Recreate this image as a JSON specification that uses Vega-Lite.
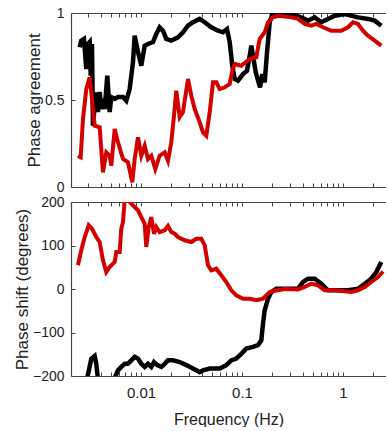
{
  "$schema": "https://vega.github.io/schema/vega-lite/v6.json",
  "padding": {"left": 13, "top": 6, "right": 0, "bottom": 0},
  "bounds": "flush",
  "spacing": 15,
  "config": {
    "view": {"stroke": null},
    "font": "Liberation Sans",
    "axis": {
      "grid": false,
      "domainColor": "#444",
      "domainWidth": 1.2,
      "tickColor": "#444",
      "tickSize": -4,
      "labelPadding": 11,
      "labelFont": "Liberation Sans",
      "labelFontSize": 15,
      "labelColor": "#222",
      "titleFont": "Liberation Sans",
      "titleFontSize": 17,
      "titleFontWeight": "normal",
      "titleColor": "#222"
    },
    "axisY": {"labelFontSize": 14}
  },
  "datasets": {
    "aK": [
      {"f":0.002472,"v":0.803},{"f":0.002564,"v":0.841},{"f":0.002727,"v":0.851},{"f":0.002873,"v":0.678},
      {"f":0.002987,"v":0.822},{"f":0.003105,"v":0.833},{"f":0.003177,"v":0.640},{"f":0.003272,"v":0.822},
      {"f":0.003347,"v":0.352},{"f":0.003479,"v":0.467},{"f":0.003608,"v":0.544},{"f":0.003751,"v":0.431},
      {"f":0.003899,"v":0.546},{"f":0.004044,"v":0.448},{"f":0.004204,"v":0.506},{"f":0.004370,"v":0.448},
      {"f":0.004637,"v":0.640},{"f":0.004898,"v":0.431},{"f":0.005080,"v":0.517},{"f":0.005490,"v":0.506},
      {"f":0.005920,"v":0.517},{"f":0.006636,"v":0.517},{"f":0.007152,"v":0.496},{"f":0.007728,"v":0.563},
      {"f":0.008333,"v":0.718},{"f":0.008661,"v":0.870},{"f":0.009339,"v":0.776},{"f":0.01007,"v":0.697},
      {"f":0.01088,"v":0.812},{"f":0.01173,"v":0.822},{"f":0.01315,"v":0.833},{"f":0.01417,"v":0.879},
      {"f":0.01531,"v":0.918},{"f":0.01651,"v":0.898},{"f":0.01780,"v":0.851},{"f":0.01995,"v":0.841},
      {"f":0.02324,"v":0.860},{"f":0.02605,"v":0.889},{"f":0.02920,"v":0.927},{"f":0.03273,"v":0.947},
      {"f":0.03813,"v":0.966},{"f":0.04272,"v":0.947},{"f":0.04966,"v":0.918},{"f":0.05786,"v":0.898},
      {"f":0.06484,"v":0.889},{"f":0.07103,"v":0.908},{"f":0.07553,"v":0.833},{"f":0.08017,"v":0.697},
      {"f":0.08468,"v":0.621},{"f":0.09130,"v":0.611},{"f":0.1023,"v":0.649},{"f":0.1121,"v":0.668},
      {"f":0.1200,"v":0.764},{"f":0.1237,"v":0.812},{"f":0.1285,"v":0.755},{"f":0.1367,"v":0.659},
      {"f":0.1508,"v":0.573},{"f":0.1589,"v":0.649},{"f":0.1678,"v":0.602},{"f":0.1769,"v":0.774},
      {"f":0.1881,"v":0.947},{"f":0.1995,"v":0.994},{"f":0.2362,"v":0.994},{"f":0.3077,"v":0.994},
      {"f":0.3865,"v":0.975},{"f":0.4503,"v":0.956},{"f":0.5246,"v":0.975},{"f":0.6097,"v":0.947},
      {"f":0.7103,"v":0.966},{"f":0.8277,"v":0.984},{"f":1.039,"v":0.994},{"f":1.408,"v":0.975},
      {"f":1.768,"v":0.966},{"f":2.060,"v":0.956},{"f":2.394,"v":0.927}
    ],
    "aR": [
      {"f":0.002377,"v":0.180},{"f":0.002529,"v":0.171},{"f":0.002665,"v":0.391},{"f":0.002873,"v":0.563},
      {"f":0.003105,"v":0.630},{"f":0.003272,"v":0.506},{"f":0.003479,"v":0.352},{"f":0.003899,"v":0.343},
      {"f":0.004204,"v":0.084},{"f":0.004533,"v":0.199},{"f":0.004898,"v":0.180},{"f":0.005080,"v":0.122},
      {"f":0.005490,"v":0.333},{"f":0.005920,"v":0.257},{"f":0.006636,"v":0.161},{"f":0.007434,"v":0.142},
      {"f":0.008201,"v":0.027},{"f":0.008661,"v":0.161},{"f":0.009339,"v":0.286},{"f":0.01007,"v":0.180},
      {"f":0.01088,"v":0.237},{"f":0.01173,"v":0.161},{"f":0.01265,"v":0.180},{"f":0.01385,"v":0.103},
      {"f":0.01531,"v":0.180},{"f":0.01717,"v":0.199},{"f":0.01850,"v":0.151},{"f":0.01995,"v":0.257},
      {"f":0.02122,"v":0.410},{"f":0.02236,"v":0.553},{"f":0.02416,"v":0.402},{"f":0.02605,"v":0.431},
      {"f":0.02920,"v":0.621},{"f":0.03148,"v":0.525},{"f":0.03402,"v":0.448},{"f":0.03813,"v":0.372},
      {"f":0.04110,"v":0.314},{"f":0.04431,"v":0.295},{"f":0.04788,"v":0.429},{"f":0.05163,"v":0.602},
      {"f":0.05567,"v":0.602},{"f":0.06016,"v":0.563},{"f":0.06741,"v":0.573},{"f":0.07553,"v":0.592},
      {"f":0.08017,"v":0.668},{"f":0.08468,"v":0.707},{"f":0.09842,"v":0.697},{"f":0.1192,"v":0.736},
      {"f":0.1386,"v":0.745},{"f":0.1497,"v":0.851},{"f":0.1678,"v":0.889},{"f":0.1809,"v":0.947},
      {"f":0.2027,"v":0.975},{"f":0.2272,"v":0.984},{"f":0.3077,"v":0.975},{"f":0.3585,"v":0.966},
      {"f":0.4176,"v":0.937},{"f":0.4855,"v":0.927},{"f":0.5440,"v":0.937},{"f":0.6339,"v":0.918},
      {"f":0.7661,"v":0.898},{"f":0.9621,"v":0.898},{"f":1.121,"v":0.918},{"f":1.256,"v":0.947},
      {"f":1.408,"v":0.937},{"f":1.578,"v":0.898},{"f":1.768,"v":0.870},{"f":2.060,"v":0.841},
      {"f":2.394,"v":0.812}
    ],
    "sK": [
      {"f":0.002873,"d":-215},{"f":0.003220,"d":-161},{"f":0.003479,"d":-154},{"f":0.003608,"d":-172},
      {"f":0.003751,"d":-207},{"f":0.004370,"d":-225},{"f":0.005080,"d":-215},{"f":0.005490,"d":-204.6},
      {"f":0.005920,"d":-187},{"f":0.006383,"d":-179},{"f":0.006896,"d":-172},{"f":0.007434,"d":-172},
      {"f":0.008014,"d":-164},{"f":0.008661,"d":-156},{"f":0.009339,"d":-160},{"f":0.01007,"d":-172},
      {"f":0.01088,"d":-179},{"f":0.01173,"d":-172},{"f":0.01265,"d":-179},{"f":0.01345,"d":-168},
      {"f":0.01450,"d":-175},{"f":0.01589,"d":-179},{"f":0.01717,"d":-172},{"f":0.01850,"d":-164},
      {"f":0.02074,"d":-164},{"f":0.02416,"d":-168},{"f":0.02809,"d":-175},{"f":0.03273,"d":-183},
      {"f":0.03813,"d":-191},{"f":0.04110,"d":-187},{"f":0.04788,"d":-183},{"f":0.06016,"d":-183},
      {"f":0.06990,"d":-175},{"f":0.07834,"d":-164},{"f":0.08781,"d":-160},{"f":0.09842,"d":-149},
      {"f":0.1103,"d":-137},{"f":0.1285,"d":-133},{"f":0.1440,"d":-129},{"f":0.1553,"d":-118},
      {"f":0.1614,"d":-80},{"f":0.1678,"d":-49},{"f":0.1809,"d":-22.3},{"f":0.1950,"d":-6.9},
      {"f":0.2186,"d":0.7},{"f":0.3585,"d":0.7},{"f":0.4018,"d":16.1},{"f":0.4503,"d":23.7},
      {"f":0.5246,"d":23.7},{"f":0.6097,"d":12.2},{"f":0.7103,"d":-3},{"f":1.121,"d":-3},
      {"f":1.408,"d":0.7},{"f":1.640,"d":12.2},{"f":1.906,"d":23.7},{"f":2.136,"d":39},
      {"f":2.394,"d":62}
    ],
    "sR": [
      {"f":0.002377,"d":54.5},{"f":0.002564,"d":89},{"f":0.002771,"d":119.5},{"f":0.003035,"d":146.4},
      {"f":0.003272,"d":138.6},{"f":0.003608,"d":119.5},{"f":0.003899,"d":108},{"f":0.004204,"d":66},
      {"f":0.004533,"d":39},{"f":0.004898,"d":50.6},{"f":0.005282,"d":58.2},{"f":0.005490,"d":62},
      {"f":0.005694,"d":85},{"f":0.006154,"d":85},{"f":0.006383,"d":138.6},{"f":0.006636,"d":154},
      {"f":0.006896,"d":205},{"f":0.007434,"d":205},{"f":0.008014,"d":196},{"f":0.008661,"d":188.5},
      {"f":0.009339,"d":181},{"f":0.01007,"d":165.5},{"f":0.01088,"d":150},{"f":0.01128,"d":96.6},
      {"f":0.01192,"d":142.5},{"f":0.01265,"d":165.5},{"f":0.01345,"d":127},{"f":0.01417,"d":142.5},
      {"f":0.01531,"d":131},{"f":0.01717,"d":135},{"f":0.01850,"d":145},{"f":0.01995,"d":131},
      {"f":0.02157,"d":127},{"f":0.02324,"d":119.5},{"f":0.02708,"d":112},{"f":0.03148,"d":108},
      {"f":0.03528,"d":115.6},{"f":0.03954,"d":115.6},{"f":0.04272,"d":101},{"f":0.04606,"d":54.5},
      {"f":0.04966,"d":43},{"f":0.05567,"d":46.7},{"f":0.06237,"d":31.5},{"f":0.06990,"d":16.1},
      {"f":0.07834,"d":-3},{"f":0.08781,"d":-14.5},{"f":0.1023,"d":-22.3},{"f":0.1192,"d":-22.3},
      {"f":0.1386,"d":-26},{"f":0.1614,"d":-22.3},{"f":0.1740,"d":-14.5},{"f":0.1881,"d":-6.9},
      {"f":0.2108,"d":-3.9},{"f":0.2648,"d":0},{"f":0.3585,"d":-1},{"f":0.4176,"d":4.6},
      {"f":0.4855,"d":12.2},{"f":0.5655,"d":8.5},{"f":0.6589,"d":-3},{"f":0.8277,"d":-3},
      {"f":1.208,"d":-6.9},{"f":1.408,"d":-3},{"f":1.640,"d":4.6},{"f":1.906,"d":16.1},
      {"f":2.221,"d":27.6},{"f":2.489,"d":40.2}
    ]
  },
  "vconcat": [
    {
      "width": 315,
      "height": 174,
      "layer": [
        {
          "data": {"name": "aK"},
          "mark": {"type": "line", "color": "#000000", "strokeWidth": 4.5, "clip": true},
          "encoding": {
            "x": {"field": "f", "type": "quantitative",
              "scale": {"type": "log", "domain": [0.002028, 2.665], "nice": false},
              "axis": {"orient": "bottom", "labels": false, "title": null,
                "values": [0.003,0.004,0.005,0.006,0.007,0.008,0.009,0.01,0.02,0.03,0.04,0.05,0.06,0.07,0.08,0.09,0.1,0.2,0.3,0.4,0.5,0.6,0.7,0.8,0.9,1,2]}},
            "y": {"field": "v", "type": "quantitative",
              "scale": {"domain": [0, 1], "nice": false},
              "axis": {"values": [0, 0.5, 1], "format": "~g", "title": "Phase agreement", "titlePadding": 1}}
          }
        },
        {
          "data": {"name": "aR"},
          "mark": {"type": "line", "color": "#d40000", "strokeWidth": 4, "clip": true},
          "encoding": {
            "x": {"field": "f", "type": "quantitative",
              "scale": {"type": "log", "domain": [0.002028, 2.665], "nice": false},
              "axis": {"orient": "top", "labels": false, "title": null,
                "values": [0.003,0.004,0.005,0.006,0.007,0.008,0.009,0.01,0.02,0.03,0.04,0.05,0.06,0.07,0.08,0.09,0.1,0.2,0.3,0.4,0.5,0.6,0.7,0.8,0.9,1,2]}},
            "y": {"field": "v", "type": "quantitative"}
          }
        }
      ],
      "resolve": {"axis": {"x": "independent"}}
    },
    {
      "width": 315,
      "height": 174,
      "layer": [
        {
          "data": {"name": "sK"},
          "mark": {"type": "line", "color": "#000000", "strokeWidth": 4.5, "clip": true},
          "encoding": {
            "x": {"field": "f", "type": "quantitative",
              "scale": {"type": "log", "domain": [0.002028, 2.665], "nice": false},
              "axis": {"orient": "bottom", "title": "Frequency (Hz)", "titleFontSize": 16, "titlePadding": 11,
                "labelPadding": 13,
                "labelExpr": "(datum.value == 0.01 || datum.value == 0.1 || datum.value == 1) ? format(datum.value, '~g') : ''",
                "values": [0.003,0.004,0.005,0.006,0.007,0.008,0.009,0.01,0.02,0.03,0.04,0.05,0.06,0.07,0.08,0.09,0.1,0.2,0.3,0.4,0.5,0.6,0.7,0.8,0.9,1,2]}},
            "y": {"field": "d", "type": "quantitative",
              "scale": {"domain": [-200, 200], "nice": false},
              "axis": {"values": [-200, -100, 0, 100, 200], "title": "Phase shift (degrees)", "titlePadding": 1}}
          }
        },
        {
          "data": {"name": "sR"},
          "mark": {"type": "line", "color": "#d40000", "strokeWidth": 4, "clip": true},
          "encoding": {
            "x": {"field": "f", "type": "quantitative",
              "scale": {"type": "log", "domain": [0.002028, 2.665], "nice": false},
              "axis": {"orient": "top", "labels": false, "title": null,
                "values": [0.003,0.004,0.005,0.006,0.007,0.008,0.009,0.01,0.02,0.03,0.04,0.05,0.06,0.07,0.08,0.09,0.1,0.2,0.3,0.4,0.5,0.6,0.7,0.8,0.9,1,2]}},
            "y": {"field": "d", "type": "quantitative"}
          }
        }
      ],
      "resolve": {"axis": {"x": "independent"}}
    }
  ]
}
